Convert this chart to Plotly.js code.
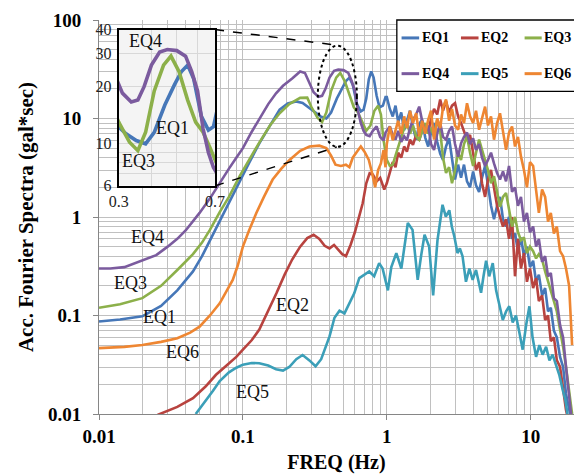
<!DOCTYPE html>
<html><head><meta charset="utf-8">
<script src="https://cdn.plot.ly/plotly-3.0.1.min.js"></script>
<style>html,body{margin:0;padding:0;background:#fff}#chart{width:574px;height:474px}</style>
</head><body><div id="chart"></div>
<script>
// ---------- DATA ----------
const seriesNames = ['EQ1','EQ2','EQ3','EQ4','EQ5','EQ6'];

// shared high-frequency grid (Hz)
const hfFreq = [1.00,1.05,1.10,1.15,1.20,1.26,1.32,1.38,1.45,1.52,
  1.60,1.68,1.76,1.85,1.94,2.03,2.13,2.24,2.35,2.46,
  2.58,2.71,2.84,2.98,3.13,3.28,3.44,3.61,3.79,3.98,
  4.17,4.38,4.59,4.82,5.05,5.30,5.56,5.84,6.12,6.42,
  6.74,7.07,7.42,7.78,8.16,8.56,8.98,9.42,9.89,10.4,
  10.9,11.4,12.0,12.6,13.2,13.8,14.5,15.2,16.0,16.8,
  17.6,18.5,19.4];

// EQ1
const eq1LowFreq = [0.01,0.014,0.02,0.027,0.035,0.045,0.052,0.059,0.069,0.08,0.095,0.11,0.13,0.155,0.18,0.205,0.234,0.26,0.29,0.32,0.35,0.38,0.41,0.45,0.49,0.52,0.55,0.58,0.62,0.66,0.69,0.72,0.75,0.78,0.81,0.85,0.89,0.94,0.98];
const eq1LowAmp  = [0.087,0.091,0.098,0.125,0.18,0.28,0.4,0.58,0.9,1.4,2.3,3.5,5.6,8.6,12.3,14.2,14.9,14.4,12.8,11.3,10.4,10.0,11.5,16,20.5,24,26,22,14,11.8,12.3,16,25,30,26,17,13,13.5,16.5];
const eq1HfAmp = [16.5,12.5,10.5,13.5,9.2,11.5,7.6,9.5,12,8.2,
  6.1,8.8,9.8,6.4,5.2,7.2,9.0,5.8,4.4,3.8,
  5.2,6.3,4.1,2.4,3.4,2.5,3.4,2.3,2.0,2.9,
  2.1,1.8,2.5,3.3,2.1,1.3,0.95,1.3,1.6,0.95,
  0.8,1.0,0.6,0.68,0.45,0.62,0.4,0.5,0.31,0.36,
  0.22,0.26,0.16,0.19,0.11,0.12,0.07,0.06,0.038,0.03,
  0.016,0.011,0.008];

// EQ2
const eq2LowFreq = [0.02,0.026,0.035,0.045,0.055,0.065,0.077,0.09,0.1,0.115,0.13,0.15,0.171,0.195,0.22,0.25,0.28,0.31,0.34,0.37,0.40,0.43,0.46,0.49,0.52,0.56,0.6,0.64,0.68,0.72,0.76,0.8,0.85,0.9,0.96];
const eq2LowAmp  = [0.0082,0.0099,0.0118,0.0145,0.019,0.025,0.031,0.038,0.045,0.056,0.072,0.11,0.168,0.26,0.37,0.5,0.61,0.66,0.6,0.51,0.48,0.52,0.47,0.42,0.40,0.52,0.7,1.0,1.38,2.2,2.78,2.7,2.3,2.5,1.9];
const eq2HfAmp = [2.2,2.9,3.6,3.2,4.5,4.0,5.2,4.6,6.1,5.4,
  6.8,6.0,7.6,8.3,7.2,10,12.5,11,15.6,12,
  15,11.5,13.5,14.3,10.5,9.0,7.5,6.1,6.8,4.5,
  3.0,3.6,2.2,1.6,2.4,3.0,2.0,1.3,1.0,0.8,
  0.95,0.6,1.0,0.25,0.6,0.3,0.43,0.22,0.3,0.19,
  0.24,0.14,0.16,0.09,0.1,0.055,0.06,0.035,0.03,0.017,
  0.011,0.008,0.006];

// EQ3
const eq3LowFreq = [0.01,0.014,0.02,0.027,0.035,0.045,0.052,0.059,0.069,0.08,0.095,0.11,0.13,0.155,0.18,0.21,0.25,0.28,0.30,0.33,0.355,0.38,0.41,0.445,0.475,0.51,0.55,0.59,0.63,0.67,0.72,0.77,0.82,0.87,0.91,0.95,0.98];
const eq3LowAmp  = [0.12,0.13,0.15,0.2,0.29,0.42,0.55,0.74,1.12,1.6,2.6,3.8,5.7,8.6,11.3,14,16.2,16.3,13,10.2,9.2,11.5,19,26,29,24,17,13,11.5,9.5,7.5,8.5,12,13.5,11,6,4.2];
const eq3HfAmp = [3.8,3.3,3.4,4.2,5.2,6.5,8.0,9.0,7.0,8.5,
  6.6,6.1,7.5,9.0,7.0,8.0,6.5,9.7,7.5,4.0,
  2.8,3.2,2.2,3.0,4.5,3.8,5.5,6.6,4.5,3.3,
  4.5,6.1,4.8,3.8,3.0,2.2,2.6,1.8,1.27,1.6,
  1.75,1.2,0.8,1.0,0.7,0.58,0.62,0.43,0.5,0.45,
  0.38,0.42,0.37,0.28,0.22,0.17,0.14,0.11,0.075,0.048,
  0.03,0.018,0.01];

// EQ4
const eq4LowFreq = [0.01,0.012,0.015,0.02,0.025,0.03,0.035,0.04,0.045,0.05,0.06,0.07,0.08,0.09,0.1,0.115,0.13,0.15,0.17,0.19,0.22,0.25,0.27,0.29,0.31,0.335,0.355,0.375,0.40,0.43,0.46,0.5,0.54,0.57,0.6,0.63,0.66,0.69,0.72,0.76,0.8,0.85,0.9,0.95,0.98];
const eq4LowAmp  = [0.3,0.3,0.31,0.36,0.41,0.5,0.6,0.73,0.9,1.1,1.6,2.3,3.1,4.0,5.0,7.3,10,14,18,21.5,25.5,30,29,23,18.5,16.6,17,20,26,30.5,31.4,31,29,24,19,12,9,7.5,6.8,6.6,7.5,8.3,6.5,6.0,7.2];
const eq4HfAmp = [7.5,8.3,6.8,6.1,7.5,5.8,6.6,6.0,8.0,9.7,
  11,13.2,9.5,7.2,8.5,5.5,4.8,7.0,9.0,6.5,
  6.1,7.5,8.3,5.5,4.1,5.6,6.5,7.2,5.5,6.3,
  4.8,5.5,4.0,3.3,3.8,4.5,3.5,2.8,2.4,2.9,
  2.3,3.3,1.8,2.0,1.3,1.6,0.9,1.1,0.7,0.8,
  0.5,0.6,0.35,0.4,0.25,0.27,0.15,0.14,0.08,0.06,
  0.03,0.014,0.008];

// EQ5
const eq5Freq = [0.047,0.055,0.062,0.069,0.08,0.09,0.1,0.115,0.13,0.15,
  0.17,0.19,0.21,0.235,0.26,0.29,0.32,0.35,0.38,0.40,
  0.433,0.469,0.508,0.55,0.594,0.644,0.697,0.755,0.817,0.885,
  0.935,1.018,1.075,1.165,1.262,1.33,1.40,1.51,1.57,1.64,
  1.73,1.83,1.97,2.1,2.25,2.35,2.44,2.57,2.72,2.83,
  2.95,3.1,3.22,3.36,3.55,3.75,3.95,4.17,4.35,4.52,
  4.7,4.9,5.15,5.45,5.75,6.06,6.4,6.75,7.1,7.5,
  7.9,8.3,8.8,9.3,9.8,10.3,10.9,11.5,12.1,12.8,
  13.5,14.2,15.0,15.8,16.7,17.4,18.0,18.8];
const eq5Amp = [0.01,0.0135,0.0172,0.0216,0.0265,0.0295,0.0317,0.033,0.0328,0.031,
  0.0285,0.0276,0.030,0.036,0.0397,0.035,0.0305,0.036,0.05,0.0613,
  0.095,0.112,0.105,0.133,0.168,0.24,0.26,0.28,0.25,0.34,
  0.3,0.18,0.31,0.43,0.30,0.55,0.87,0.74,0.45,0.23,
  0.4,0.66,0.50,0.16,0.58,0.95,1.33,1.01,1.17,0.8,
  0.63,0.43,0.48,0.40,0.22,0.3,0.23,0.29,0.22,0.17,
  0.25,0.36,0.25,0.34,0.18,0.124,0.09,0.11,0.124,0.085,
  0.10,0.07,0.045,0.08,0.124,0.06,0.038,0.05,0.04,0.048,
  0.035,0.04,0.0305,0.025,0.0176,0.014,0.01,0.007];

// EQ6
const eq6LowFreq = [0.01,0.015,0.02,0.027,0.035,0.043,0.05,0.059,0.069,0.078,0.085,0.092,0.1,0.11,0.124,0.14,0.161,0.185,0.211,0.25,0.29,0.34,0.38,0.41,0.44,0.48,0.52,0.55,0.58,0.62,0.66,0.7,0.75,0.79,0.83,0.87,0.91,0.95,0.98];
const eq6LowAmp  = [0.0466,0.048,0.0502,0.054,0.0587,0.067,0.077,0.1,0.133,0.18,0.23,0.32,0.5,0.72,1.1,1.6,2.4,3.1,3.8,4.7,5.2,5.3,5.0,4.2,3.4,3.3,3.4,3.2,4.0,4.6,5.2,4.6,3.8,2.8,2.0,3.0,3.5,4.8,3.2];
const eq6HfAmp = [5.5,8.3,6.0,7.7,9.5,7.0,10.5,8.0,12,9.0,
  11.3,6.6,9.5,7.0,9.7,12,6.1,10,8.0,13,
  15.6,9.5,12.5,8.5,7.7,11,9,14.3,10.5,9.0,
  12,7.7,10,13.2,8.5,10.5,6.1,9,11.3,7,
  4.8,7.2,8.3,5.2,6.5,4.1,3.0,2.0,3.6,3.3,
  1.8,1.1,1.9,1.6,0.9,1.1,0.68,0.8,0.45,0.4,
  0.3,0.2,0.05];

// axis ticks
const xTickVals = [0.01,0.1,1,10];
const xTickText = ['0.01','0.1','1','10'];
const xMinorVals = [0.02,0.03,0.04,0.05,0.06,0.07,0.08,0.09,0.2,0.3,0.4,0.5,0.6,0.7,0.8,0.9,2,3,4,5,6,7,8,9];
const yTickVals = [0.01,0.1,1,10,100];
const yTickText = ['0.01','0.1','1','10','100'];
const yMinorVals = [0.02,0.03,0.04,0.05,0.06,0.07,0.08,0.09,0.2,0.3,0.4,0.5,0.6,0.7,0.8,0.9,2,3,4,5,6,7,8,9,20,30,40,50,60,70,80,90];
const insetXTickVals = [0.3,0.7];
const insetXTickText = ['0.3','0.7'];
const insetXMinor = [0.4,0.5,0.6];
const insetYTickVals = [6,10,20,30,40];
const insetYTickText = ['6','10','20','30','40'];
const insetYMinor = [7,8,9];

// ---------- BUILD ----------
const colors = {EQ1:'#4677b8', EQ2:'#b8433f', EQ3:'#8cb04a', EQ4:'#7b5b9e', EQ5:'#3b9fb8', EQ6:'#ee8632'};
const seriesData = {
  EQ1: [eq1LowFreq.concat(hfFreq), eq1LowAmp.concat(eq1HfAmp)],
  EQ2: [eq2LowFreq.concat(hfFreq), eq2LowAmp.concat(eq2HfAmp)],
  EQ3: [eq3LowFreq.concat(hfFreq), eq3LowAmp.concat(eq3HfAmp)],
  EQ4: [eq4LowFreq.concat(hfFreq), eq4LowAmp.concat(eq4HfAmp)],
  EQ5: [eq5Freq, eq5Amp],
  EQ6: [eq6LowFreq.concat(hfFreq), eq6LowAmp.concat(eq6HfAmp)]
};
const traces = [];
seriesNames.forEach(n => {
  traces.push({x: seriesData[n][0], y: seriesData[n][1], type:'scatter', mode:'lines', name:n,
    line:{color:colors[n], width:2.6}, xaxis:'x', yaxis:'y', showlegend:false, hoverinfo:'skip'});
});
['EQ1','EQ3','EQ4'].forEach(n => {
  traces.push({x: seriesData[n][0], y: seriesData[n][1], type:'scatter', mode:'lines', name:n+' (zoom)',
    line:{color:colors[n], width:3.6}, xaxis:'x2', yaxis:'y2', showlegend:false, hoverinfo:'skip'});
});

const serif = 'Liberation Serif, Times New Roman, serif';
const grid = '#c0c0c0', axisCol = '#868686';

const shapes = [
  {type:'rect', xref:'x2', yref:'y2', x0:0.3, x1:0.7, y0:6, y1:40, fillcolor:'#f4f4f4', line:{width:0}, layer:'below'},
  {type:'circle', xref:'paper', yref:'paper', x0:0.4607, x1:0.5429, y0:0.678, y1:0.935, line:{color:'#000', width:2, dash:'dot'}, layer:'above'},
  {type:'line', xref:'paper', yref:'paper', x0:0.2444, y0:0.9756, x1:0.507, y1:0.935, line:{color:'#000', width:1.5, dash:'dash'}, layer:'above'},
  {type:'line', xref:'paper', yref:'paper', x0:0.2444, y0:0.579, x1:0.5007, y1:0.678, line:{color:'#000', width:1.5, dash:'dash'}, layer:'above'},
  {type:'rect', xref:'paper', yref:'paper', x0:0.627, x1:1.01, y0:0.819, y1:1.0, fillcolor:'#fff', line:{color:'#000', width:1.3}, layer:'above'}
];
const annotations = [];
const legCols = [[0.637,0.674,0.677],[0.762,0.799,0.802],[0.896,0.932,0.935]];
const legRows = [0.9545, 0.8638];
seriesNames.forEach((n,i) => {
  const c = legCols[i%3], r = legRows[Math.floor(i/3)];
  shapes.push({type:'line', xref:'paper', yref:'paper', x0:c[0], x1:c[1], y0:r, y1:r, line:{color:colors[n], width:3}, layer:'above'});
  annotations.push({xref:'paper', yref:'paper', x:c[2], y:r, text:n, showarrow:false, xanchor:'left', yanchor:'middle',
    borderpad:0, font:{family:serif, size:14, weight:700, color:'#000'}});
});
const labels = [
  ['EQ4',0.1015,0.4497],['EQ3',0.0668,0.3328],['EQ1',0.1279,0.2464],['EQ6',0.1753,0.1563],
  ['EQ2',0.407,0.2769],['EQ5',0.3227,0.0567],
  ['EQ4',0.0984,0.9459],['EQ1',0.1542,0.7266],['EQ3',0.0836,0.6428]
];
labels.forEach(l => annotations.push({xref:'paper', yref:'paper', x:l[1], y:l[2], text:l[0], showarrow:false,
  xanchor:'center', yanchor:'middle', font:{family:serif, size:18, color:'#111'}}));

const layout = {
  width:574, height:474,
  margin:{l:99, r:0, t:20, b:60},
  paper_bgcolor:'#fff', plot_bgcolor:'#fff',
  showlegend:false,
  font:{family:serif, color:'#000'},
  xaxis:{type:'log', range:[-2, Math.log10(20)], domain:[0,1], anchor:'y',
    tickvals:xTickVals, ticktext:xTickText, ticks:'outside', ticklen:5, tickcolor:axisCol,
    showline:true, linecolor:axisCol, linewidth:1, showgrid:true, gridcolor:grid, gridwidth:1, zeroline:false,
    tickfont:{family:serif, size:19, weight:700, color:'#000'},
    minor:{tickvals:xMinorVals, showgrid:true, gridcolor:grid, gridwidth:1, ticks:''},
    title:{text:'FREQ (Hz)', font:{family:serif, size:20, weight:700, color:'#000'}, standoff:10},
    automargin:false},
  yaxis:{type:'log', range:[-2, 2], domain:[0,1], anchor:'x',
    tickvals:yTickVals, ticktext:yTickText, ticks:'outside', ticklen:5, tickcolor:axisCol,
    showline:true, linecolor:axisCol, linewidth:1, showgrid:true, gridcolor:grid, gridwidth:1, zeroline:false,
    tickfont:{family:serif, size:19, weight:700, color:'#000'}, ticklabelstandoff:8,
    minor:{tickvals:yMinorVals, showgrid:true, gridcolor:grid, gridwidth:1, ticks:''},
    title:{text:'Acc. Fourier Spectra (gal*sec)', font:{family:serif, size:21, weight:700, color:'#000'}, standoff:8},
    automargin:false},
  xaxis2:{type:'log', range:[Math.log10(0.3), Math.log10(0.7)], domain:[0.0415,0.2444], anchor:'y2',
    tickvals:insetXTickVals, ticktext:insetXTickText, ticks:'', showline:true, mirror:true, linecolor:'#000', linewidth:2,
    showgrid:true, gridcolor:'#d8d8d8', zeroline:false, tickfont:{family:serif, size:16, color:'#222'},
    minor:{tickvals:insetXMinor, showgrid:true, gridcolor:'#d8d8d8'}, automargin:false},
  yaxis2:{type:'log', range:[Math.log10(6), Math.log10(40)], domain:[0.579,0.9756], anchor:'x2',
    tickvals:insetYTickVals, ticktext:insetYTickText, ticks:'', showline:true, mirror:true, linecolor:'#000', linewidth:2,
    showgrid:true, gridcolor:'#d8d8d8', zeroline:false, tickfont:{family:serif, size:16, color:'#222'}, ticklabelstandoff:2,
    minor:{tickvals:insetYMinor, showgrid:true, gridcolor:'#d8d8d8'}, automargin:false},
  shapes: shapes,
  annotations: annotations
};
Plotly.newPlot('chart', traces, layout, {displayModeBar:false, staticPlot:true});
</script>
</body></html>
